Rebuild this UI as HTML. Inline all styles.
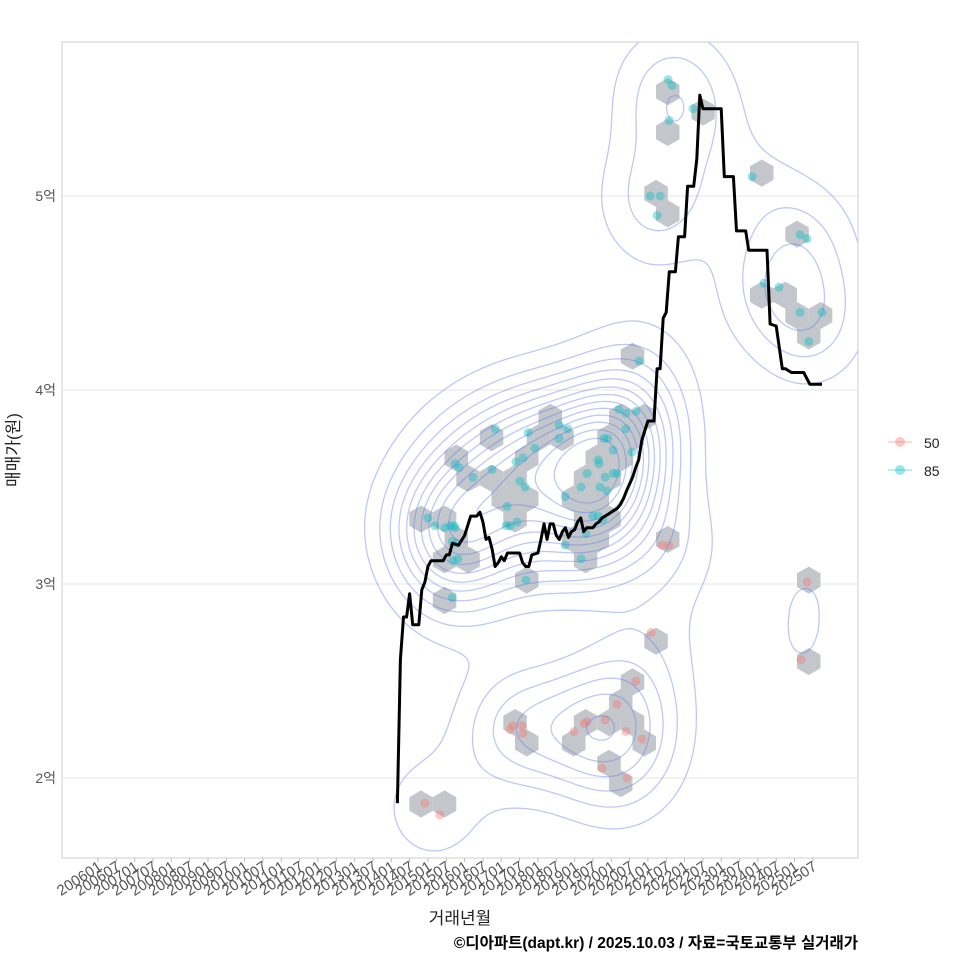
<!DOCTYPE html>
<html><head><meta charset="utf-8"><style>
html,body{margin:0;padding:0;background:#fff;}
svg{display:block;font-family:"Liberation Sans","Noto Sans CJK KR",sans-serif;}
</style></head><body>
<svg id="chart" width="960" height="960" viewBox="0 0 960 960">
<defs><clipPath id="pc"><rect x="62" y="42" width="796" height="816"/></clipPath></defs>
<rect x="0" y="0" width="960" height="960" fill="#fff"/>
<g id="grid"></g>
<g id="hex" clip-path="url(#pc)"></g>
<g id="pts" clip-path="url(#pc)"></g>
<g id="cont" clip-path="url(#pc)"></g>
<g id="line" clip-path="url(#pc)"></g>
<rect x="62" y="42" width="796" height="816" fill="none" stroke="#cfcfcf" stroke-width="1"/>
<g id="yaxis"></g>
<g id="xaxis"></g>
<text transform="translate(19,450) rotate(-90)" text-anchor="middle" font-size="17" fill="#222">매매가(원)</text>
<text x="460" y="924" text-anchor="middle" font-size="17" fill="#222">거래년월</text>
<text x="858" y="948" text-anchor="end" font-size="15.5" font-weight="bold" fill="#000">©디아파트(dapt.kr) / 2025.10.03 / 자료=국토교통부 실거래가</text>
<g>
  <g>
    <line x1="888" y1="442" x2="912" y2="442" stroke="#f8766d" stroke-opacity="0.35" stroke-width="1.5"/>
    <circle cx="900" cy="442" r="5" fill="#f8766d" fill-opacity="0.4"/>
    <text x="924" y="448" font-size="14" fill="#222">50</text>
  </g>
  <g>
    <line x1="888" y1="470" x2="912" y2="470" stroke="#00bfc4" stroke-opacity="0.35" stroke-width="1.5"/>
    <circle cx="900" cy="470" r="5" fill="#00bfc4" fill-opacity="0.4"/>
    <text x="924" y="476" font-size="14" fill="#222">85</text>
  </g>
</g>
</svg>
<script>
// months since 2006-01 ; values in 억원
const lineMonth=[98,99,100,101,102,103,105,106,107,108,109,111,113,114,115,116,118,120,122,124,125,126,127,128,129,130,131,132,133,134,137,138,139,140,141,142,144,145,146,147,148,149,150,151,152,153,154,155,156,157,158,159,160,162,163,164,165,166,167,168,170,171,172,173,175,176,177,178,179,180,181,182,183,184,185,186,187,189,190,192,193,195,196,197,198,204,205,208,209,212,213,219,220,222,224,225,226,227,231,233,237];
const lineValue=[1.87,2.61,2.83,2.83,2.95,2.79,2.79,2.97,3.01,3.09,3.12,3.12,3.12,3.15,3.15,3.21,3.20,3.25,3.35,3.35,3.37,3.32,3.23,3.24,3.18,3.09,3.11,3.14,3.12,3.16,3.16,3.16,3.11,3.09,3.09,3.15,3.16,3.23,3.31,3.23,3.31,3.31,3.25,3.23,3.27,3.29,3.24,3.27,3.28,3.32,3.34,3.27,3.29,3.29,3.31,3.32,3.34,3.35,3.36,3.37,3.39,3.41,3.44,3.48,3.55,3.60,3.64,3.74,3.79,3.84,3.84,3.84,4.11,4.11,4.37,4.40,4.61,4.61,4.79,4.79,5.05,5.05,5.19,5.52,5.45,5.45,5.10,5.10,4.82,4.82,4.72,4.72,4.34,4.33,4.11,4.11,4.10,4.09,4.09,4.03,4.03];
const redMonth=[107.0,111.9,134.9,135.8,138.8,139.1,155.8,159.1,160.1,166.0,169.9,172.8,178.1,165.0,173.2,176.1,181.0,184.6,186.9,232.1,230.1];
const redValue=[1.87,1.81,2.25,2.27,2.27,2.23,2.24,2.28,2.29,2.30,2.38,2.24,2.20,2.05,2.00,2.50,2.75,3.20,3.20,3.01,2.61];
const cyanMonth=[130.0,140.8,150.9,153.8,116.9,118.2,122.7,129.0,136.8,139.1,143.0,150.9,138.1,139.8,133.9,133.6,134.9,137.2,108.0,110.3,115.2,116.9,115.9,117.5,116.2,117.8,115.9,152.9,158.1,160.1,163.7,164.0,166.0,169.9,164.3,166.6,166.9,168.6,172.8,170.5,172.8,176.1,162.0,163.7,165.3,159.7,152.9,158.1,140.1,187.9,186.6,194.8,186.9,180.7,184.0,183.0,214.1,229.8,232.1,218.0,222.9,229.8,237.0,232.7,177.1,113.6,116.5,174.8,168.6,165.6];
const cyanValue=[3.80,3.78,3.82,3.80,3.62,3.60,3.55,3.59,3.63,3.65,3.70,3.75,3.53,3.50,3.40,3.30,3.30,3.32,3.34,3.30,3.30,3.29,3.22,3.21,3.12,3.13,2.93,3.45,3.50,3.57,3.64,3.62,3.55,3.57,3.50,3.48,3.75,3.69,3.80,3.90,3.88,3.89,3.35,3.35,3.33,3.26,3.20,3.13,3.02,5.57,5.60,5.45,5.39,5.00,5.00,4.90,5.10,4.80,4.78,4.55,4.53,4.40,4.40,4.25,4.15,3.29,3.30,3.68,3.57,3.75];
const yTicks=[2,3,4,5];
const yTickLabels=["2억","3억","4억","5억"];
const xTickLabels=[];
for(let y=2006;y<=2025;y++){xTickLabels.push(y+"01");xTickLabels.push(y+"07");}

const NS="http://www.w3.org/2000/svg";
function X(m){return 98+m*(18.33/6);}
function Y(v){return 778-(v-2)*194;}
function mk(tag,attrs,parent){const e=document.createElementNS(NS,tag);for(const k in attrs)e.setAttribute(k,attrs[k]);parent.appendChild(e);return e;}

const grid=document.getElementById('grid'),ya=document.getElementById('yaxis');
yTicks.forEach((t,i)=>{
  const gl=mk('line',{x1:62,x2:858,y1:Y(t),y2:Y(t),stroke:'#e4e4e4','stroke-width':1},grid);
  
  
  const tx=mk('text',{x:56,y:Y(t)+5,'text-anchor':'end','font-size':14,fill:'#555'},ya);
  tx.textContent=yTickLabels[i];
  
  
});
const xa=document.getElementById('xaxis');
xTickLabels.forEach((lab,i)=>{
  const x=X(i*6);
  const tk=mk('line',{x1:x,x2:x,y1:858,y2:862,stroke:'#bbb','stroke-width':1},xa);
  
  
  const tx=mk('text',{transform:`translate(${x+5},${869}) rotate(-33)`,'text-anchor':'end','font-size':15,fill:'#555'},xa);
  tx.textContent=lab;
  
  
});

const all=[];
redMonth.forEach((m,i)=>all.push([X(m),Y(redValue[i])]));
cyanMonth.forEach((m,i)=>all.push([X(m),Y(cyanValue[i])]));
const HW=23.5,HR=HW/Math.sqrt(3),HV=1.5*HR,OX=421,OY=804;
const bins={};
all.forEach(([px,py])=>{
  const k0=Math.round((OY-py)/HV);let best=null,bd=1e9;
  for(let k=k0-1;k<=k0+1;k++){
    const off=(Math.abs(k)%2)?HW/2:0;const j=Math.round((px-OX-off)/HW);
    for(let jj=j-1;jj<=j+1;jj++){const cx=OX+off+jj*HW,cy=OY-k*HV;const d=(cx-px)**2+(cy-py)**2;if(d<bd){bd=d;best=[cx,cy];}}
  }
  bins[best[0].toFixed(2)+','+best[1].toFixed(2)]=best;
});
const hg=document.getElementById('hex');
Object.values(bins).forEach(([cx,cy])=>{
  let p='';for(let a=0;a<6;a++){const ang=Math.PI/180*(60*a-90);p+=(a?'L':'M')+(cx+HR*Math.cos(ang)).toFixed(1)+' '+(cy+HR*Math.sin(ang)).toFixed(1);}
  const h=mk('path',{d:p+'Z',fill:'#c3c7cc'},hg);
  
  
});

const pg=document.getElementById('pts');
redMonth.forEach((m,i)=>{const c=mk('circle',{cx:X(m),cy:Y(redValue[i]),r:4.5,fill:'#f8766d','fill-opacity':0.4},pg);
  
  });
cyanMonth.forEach((m,i)=>{const c=mk('circle',{cx:X(m),cy:Y(cyanValue[i]),r:4.5,fill:'#00bfc4','fill-opacity':0.4},pg);
  
  });

const S=4,x0=62,y0=42,NX=200,NY=205,HX=40,HY=44;
const D=[];let mx=0;
for(let j=0;j<=NY;j++){const row=[];const py=y0+j*S;
  for(let i=0;i<=NX;i++){const px=x0+i*S;let s=0;
    for(const [ax,ay] of all){const dx=(px-ax)/HX,dy=(py-ay)/HY;const q=dx*dx+dy*dy;if(q<30)s+=Math.exp(-0.5*q);}
    row.push(s);if(s>mx)mx=s;}
  D.push(row);}
const cg=document.getElementById('cont');
const NL=14;
for(let l=1;l<NL;l++){
  const lv=mx*l/NL*0.95;let d='';
  for(let j=0;j<NY;j++)for(let i=0;i<NX;i++){
    const a=D[j][i],b=D[j][i+1],c=D[j+1][i+1],e=D[j+1][i];
    const pts=[];
    const px=x0+i*S,py=y0+j*S;
    if((a>lv)!==(b>lv))pts.push([px+S*(lv-a)/(b-a),py]);
    if((b>lv)!==(c>lv))pts.push([px+S,py+S*(lv-b)/(c-b)]);
    if((e>lv)!==(c>lv))pts.push([px+S*(lv-e)/(c-e),py+S]);
    if((a>lv)!==(e>lv))pts.push([px,py+S*(lv-a)/(e-a)]);
    if(pts.length>=2)d+=`M${pts[0][0].toFixed(1)} ${pts[0][1].toFixed(1)}L${pts[1][0].toFixed(1)} ${pts[1][1].toFixed(1)}`;
    if(pts.length===4)d+=`M${pts[2][0].toFixed(1)} ${pts[2][1].toFixed(1)}L${pts[3][0].toFixed(1)} ${pts[3][1].toFixed(1)}`;
  }
  const p=mk('path',{d:d,fill:'none',stroke:'#5b78e6','stroke-opacity':0.4,'stroke-width':1.3},cg);
  
  
}

let ld='';lineMonth.forEach((m,i)=>{ld+=(i?'L':'M')+X(m).toFixed(1)+' '+Y(lineValue[i]).toFixed(1);});
const ln=mk('path',{d:ld,fill:'none',stroke:'#000','stroke-width':3,'stroke-linejoin':'round'},document.getElementById('line'));


</script>
</body></html>
